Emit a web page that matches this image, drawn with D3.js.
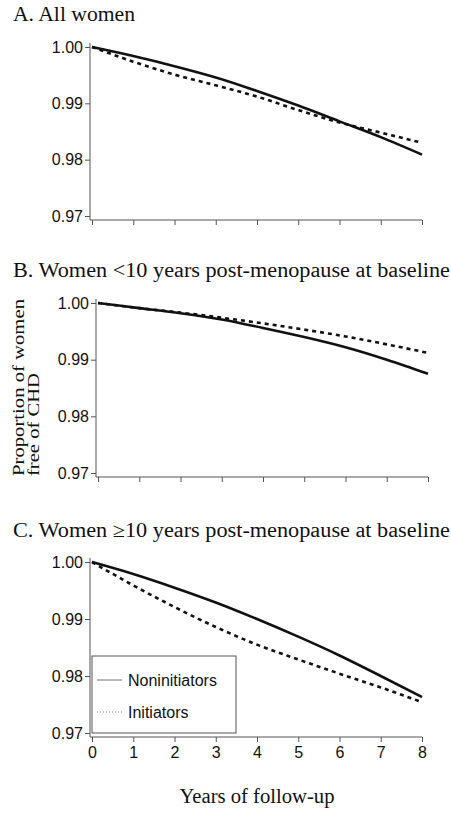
<!DOCTYPE html>
<html>
<head>
<meta charset="utf-8">
<script src="https://cdn.jsdelivr.net/npm/d3@7"></script>
<style>
html,body{margin:0;padding:0;background:#fff;}
svg{display:block;}
</style>
</head>
<body>
<svg id="chart" width="451" height="813"></svg>
<script>
// ---- data ----
const years = [0, 1, 2, 3, 4, 5, 6, 7, 8];
const yTicks = [0.97, 0.98, 0.99, 1.00];
const seriesNames = ["Noninitiators", "Initiators"];
const panelTitles = [
  "A. All women",
  "B. Women <10 years post-menopause at baseline",
  "C. Women \u226510 years post-menopause at baseline"
];
const allNon = [1.0, 0.9984, 0.9966, 0.9946, 0.9922, 0.9896, 0.9868, 0.9840, 0.9809];
const allIni = [1.0, 0.9974, 0.9951, 0.9932, 0.9912, 0.9888, 0.9866, 0.9848, 0.9830];
const youngNon = [1.0, 0.9991, 0.9982, 0.9971, 0.9956, 0.9940, 0.9922, 0.9900, 0.9875];
const youngIni = [1.0, 0.9991, 0.9983, 0.9974, 0.9964, 0.9953, 0.9941, 0.9927, 0.9912];
const oldNon = [1.0, 0.9979, 0.9955, 0.9929, 0.9900, 0.9869, 0.9836, 0.9800, 0.9763];
const oldIni = [1.0, 0.9959, 0.9921, 0.9886, 0.9855, 0.9829, 0.9804, 0.9780, 0.9754];
const yLabel = ["Proportion of women", "free of CHD"];
const xLabel = "Years of follow-up";

// ---- layout ----
const panels = [
  {title: panelTitles[0], tY: 21, tW: 122, x0: 92, x1: 422, yTop: 47, yBot: 216, non: allNon, ini: allIni, xLabels: false},
  {title: panelTitles[1], tY: 277, tW: 437, x0: 98, x1: 428, yTop: 303, yBot: 473, non: youngNon, ini: youngIni, xLabels: false},
  {title: panelTitles[2], tY: 537, tW: 437, x0: 92, x1: 422, yTop: 562, yBot: 733, non: oldNon, ini: oldIni, xLabels: true, legend: true}
];

const svg = d3.select("#chart");
const serif = "'Liberation Serif', 'Times New Roman', serif";
const sans = "'Liberation Sans', Arial, sans-serif";
const axisColor = "#555";

panels.forEach(p => {
  const x = d3.scaleLinear().domain([0, 8]).range([p.x0, p.x1]);
  const y = d3.scaleLinear().domain([0.97, 1.00]).range([p.yBot, p.yTop]);
  const axX = p.x0 - 2;
  const axY = p.yBot + 4;

  svg.append("text").attr("x", 13).attr("y", p.tY)
    .attr("font-family", serif).attr("font-size", 20).attr("fill", "#111")
    .attr("textLength", p.tW).attr("lengthAdjust", "spacingAndGlyphs")
    .text(p.title);

  // y axis
  const ya = svg.append("g").attr("transform", `translate(${axX},0)`)
    .call(d3.axisLeft(y).tickValues(yTicks).tickFormat(d3.format(".2f")).tickSize(5).tickPadding(2).tickSizeOuter(0));
  ya.select(".domain").remove();
  ya.selectAll("line").attr("stroke", axisColor);
  ya.selectAll("text").attr("font-family", sans).attr("font-size", 16).attr("fill", "#111");
  svg.append("line").attr("x1", axX).attr("x2", axX).attr("y1", p.yTop - 4).attr("y2", axY).attr("stroke", axisColor);

  // x axis
  const xa = svg.append("g").attr("transform", `translate(0,${axY})`)
    .call(d3.axisBottom(x).tickValues(years).tickSize(5).tickPadding(5).tickSizeOuter(0)
      .tickFormat(p.xLabels ? d3.format("d") : () => ""));
  xa.select(".domain").remove();
  xa.selectAll("line").attr("stroke", axisColor);
  xa.selectAll("text").attr("font-family", sans).attr("font-size", 16).attr("fill", "#111");
  svg.append("line").attr("x1", axX).attr("x2", p.x1).attr("y1", axY).attr("y2", axY).attr("stroke", axisColor);

  const line = d3.line().x((d, i) => x(years[i])).y(d => y(d)).curve(d3.curveMonotoneX);
  svg.append("path").datum(p.ini).attr("d", line).attr("fill", "none")
    .attr("stroke", "#111").attr("stroke-width", 2.6).attr("stroke-dasharray", "4,4");
  svg.append("path").datum(p.non).attr("d", line).attr("fill", "none")
    .attr("stroke", "#111").attr("stroke-width", 2.6);

  if (p.legend) {
    const lg = svg.append("g");
    lg.append("rect").attr("x", axX + 2).attr("y", 656).attr("width", 144).attr("height", axY - 656 - 4)
      .attr("fill", "#fff").attr("stroke", axisColor).attr("stroke-width", 1);
    const rows = [{name: seriesNames[0], dash: null, yy: 680}, {name: seriesNames[1], dash: "1,2", yy: 712}];
    rows.forEach(r => {
      lg.append("line").attr("x1", 97).attr("x2", 122).attr("y1", r.yy).attr("y2", r.yy)
        .attr("stroke", "#777").attr("stroke-width", 1).attr("stroke-dasharray", r.dash);
      lg.append("text").attr("x", 128).attr("y", r.yy + 6).attr("font-family", sans).attr("font-size", 16)
        .attr("fill", "#111").text(r.name);
    });
  }
});

// y label (two lines, rotated, bottom-aligned)
svg.append("text").attr("transform", "translate(24,476) rotate(-90)")
  .attr("font-family", serif).attr("font-size", 17).attr("fill", "#111")
  .attr("textLength", 177).attr("lengthAdjust", "spacingAndGlyphs").text(yLabel[0]);
svg.append("text").attr("transform", "translate(39,476) rotate(-90)")
  .attr("font-family", serif).attr("font-size", 17).attr("fill", "#111")
  .attr("textLength", 103).attr("lengthAdjust", "spacingAndGlyphs").text(yLabel[1]);

svg.append("text").attr("x", 257).attr("y", 803).attr("text-anchor", "middle")
  .attr("font-family", serif).attr("font-size", 20).attr("fill", "#111")
  .attr("textLength", 155).attr("lengthAdjust", "spacingAndGlyphs").text(xLabel);
</script>
</body>
</html>
